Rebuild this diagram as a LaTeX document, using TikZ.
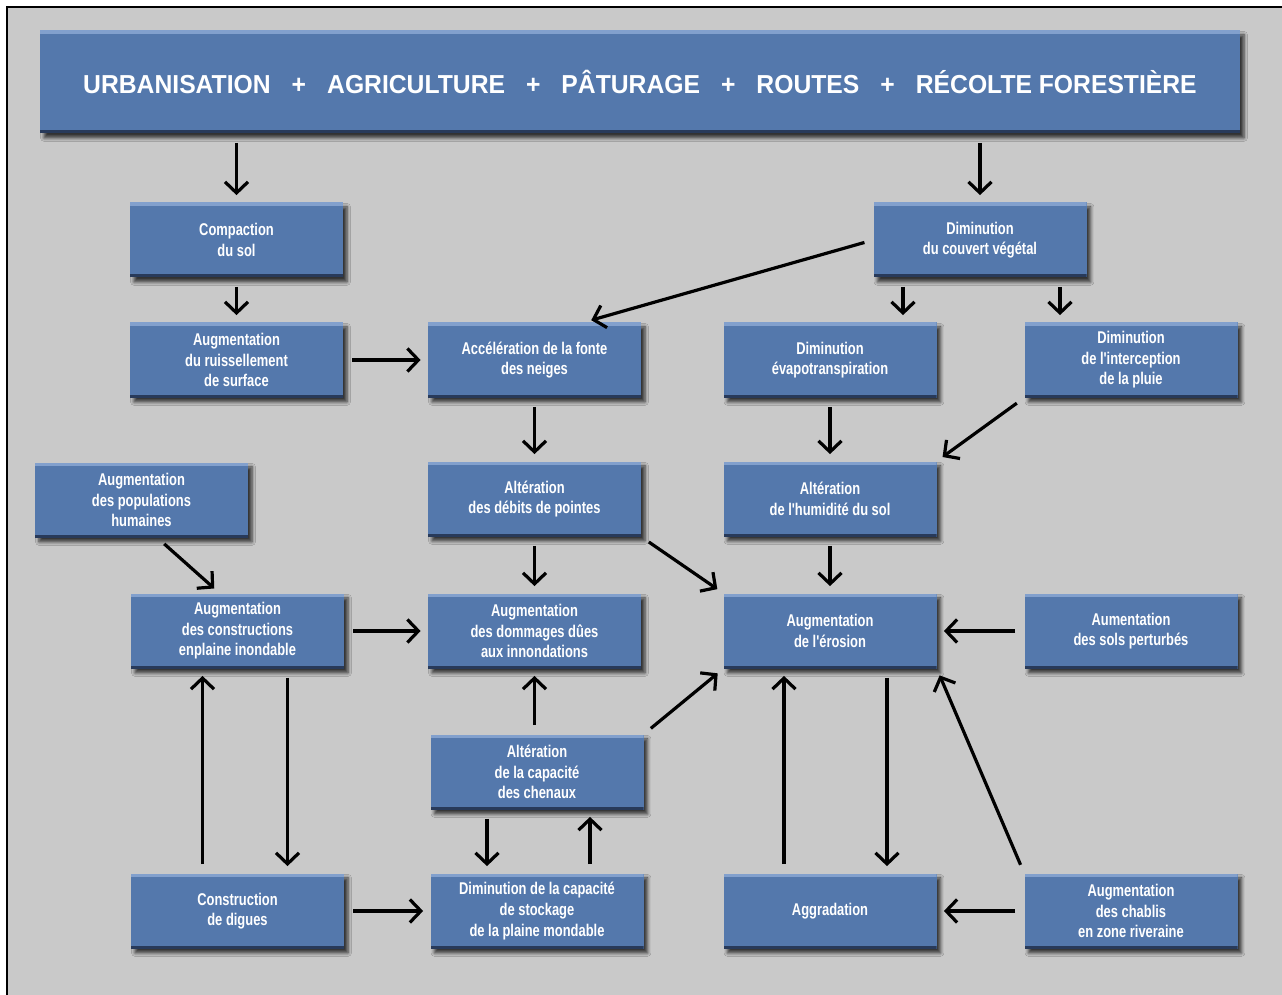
\documentclass[tikz,border=0pt]{standalone}
\usepackage{fontspec}
\usepackage{tikz}
\usetikzlibrary{arrows.meta,shadows.blur}
\newfontfamily\boxfont{Liberation Sans}[FakeStretch=0.76]
\newfontfamily\bannerfont{Liberation Sans}[FakeStretch=0.95]
\definecolor{boxblue}{RGB}{84,120,172}
\definecolor{boxlight}{RGB}{130,160,205}
\definecolor{boxdark}{RGB}{40,58,90}
\definecolor{paper}{RGB}{201,201,201}
\newcommand{\boxw}{106.5pt}
\newcommand{\boxh}{37.5pt}
\newcommand{\plus}{\hspace{10.5pt}+\hspace{10.5pt}}
\tikzset{
  bloc/.style={rectangle, fill=boxblue, text=white, align=center,
    minimum width=\boxw, minimum height=\boxh, inner sep=0pt,
    font=\boxfont\bfseries\fontsize{8.5}{10.3}\selectfont,
    blur shadow={shadow xshift=2pt, shadow yshift=-2.2pt, shadow blur steps=5, shadow opacity=75},
    path picture={
      \fill[boxlight] (path picture bounding box.north west) rectangle ([yshift=-1.8pt]path picture bounding box.north east);
      \fill[boxdark] ([yshift=1.5pt]path picture bounding box.south west) rectangle (path picture bounding box.south east);
    }},
  banniere/.style={bloc, minimum width=600pt, minimum height=51.5pt,
    font=\bannerfont\bfseries\fontsize{13}{15}\selectfont},
  flow/.style={-{Straight Barb[length=5.5pt,width=11.5pt]}, line width=1.6pt,
    shorten <=4.5pt, shorten >=3.5pt}
}

\begin{document}
\begin{tikzpicture}[x=0.5pt,y=-0.5pt]
  \useasboundingbox (0,0) rectangle (1282,995);
  \fill[white] (0,0) rectangle (1282,995);
  \fill[paper] (7,7) rectangle (1282,995);
  \draw[line width=1pt] (7,995) -- (7,7) -- (1282,7);

  \node[banniere] (banner) at (640,82) {URBANISATION\plus AGRICULTURE\plus P\^ATURAGE\plus ROUTES\plus R\'ECOLTE FORESTI\`ERE};

  \node[bloc] (compact) at (236.5,240) {Compaction\\du sol};
  \node[bloc] (couvert) at (980,240) {Diminution\\du couvert v\'eg\'etal};

  \node[bloc] (ruiss) at (236.5,360) {Augmentation\\du ruissellement\\de surface};
  \node[bloc] (fonte) at (534.5,360) {Acc\'el\'eration de la fonte\\des neiges};
  \node[bloc] (evapo) at (830,360) {Diminution\\\'evapotranspiration};
  \node[bloc] (intercep) at (1131,360) {Diminution\\de l'interception\\de la pluie};

  \node[bloc] (popul) at (141.5,500) {Augmentation\\des populations\\humaines};
  \node[bloc] (debits) at (534.5,499) {Alt\'eration\\des d\'ebits de pointes};
  \node[bloc] (humid) at (830,499) {Alt\'eration\\de l'humidit\'e du sol};

  \node[bloc] (constr) at (237.5,631) {Augmentation\\des constructions\\enplaine inondable};
  \node[bloc] (dommag) at (534.5,631) {Augmentation\\des dommages d\^ues\\aux innondations};
  \node[bloc] (erosion) at (830,631) {Augmentation\\de l'\'erosion};
  \node[bloc] (sols) at (1131,631) {Aumentation\\des sols perturb\'es};

  \node[bloc] (chenaux) at (537,772) {Alt\'eration\\de la capacit\'e\\des chenaux};

  \node[bloc] (digues) at (237.5,911) {Construction\\de digues};
  \node[bloc] (stockage) at (537,911) {Diminution de la capacit\'e\\de stockage\\de la plaine mondable};
  \node[bloc] (aggrad) at (830,911) {Aggradation};
  \node[bloc] (chablis) at (1131,911) {Augmentation\\des chablis\\en zone riveraine};

  \draw[flow] (banner.south -| compact) -- (compact.north);
  \draw[flow] (banner.south -| couvert) -- (couvert.north);
  \draw[flow] (compact.south) -- (ruiss.north);
  \draw[flow] (couvert.west) -- ([xshift=25pt]fonte.north);
  \draw[flow] ([xshift=-38.5pt]couvert.south) -- ([xshift=-38.5pt]couvert.south |- evapo.north);
  \draw[flow] ([xshift=40pt]couvert.south) -- ([xshift=40pt]couvert.south |- intercep.north);
  \draw[flow] (ruiss.east) -- (fonte.west);
  \draw[flow] (fonte.south) -- (debits.north);
  \draw[flow] (evapo.south) -- (humid.north);
  \draw[flow] (intercep.south west) -- (humid.north east);
  \draw[flow] ([xshift=8pt]popul.south) -- ([xshift=-9pt]constr.north);
  \draw[flow] (debits.south) -- (dommag.north);
  \draw[flow] (debits.south east) -- (erosion.north west);
  \draw[flow] (humid.south) -- (erosion.north);
  \draw[flow] (constr.east) -- (dommag.west);
  \draw[flow] (sols.west) -- (erosion.east);
  \draw[flow] (chenaux.north -| dommag) -- (dommag.south);
  \draw[flow] (chenaux.north east) -- (erosion.south west);
  \draw[flow] ([xshift=-17.5pt]digues.north) -- ([xshift=-17.5pt]constr.south);
  \draw[flow] ([xshift=25pt]constr.south) -- ([xshift=25pt]digues.north);
  \draw[flow] ([xshift=-25pt]chenaux.south) -- ([xshift=-25pt]stockage.north);
  \draw[flow] ([xshift=26.5pt]stockage.north) -- ([xshift=26.5pt]chenaux.south);
  \draw[flow] (digues.east) -- (stockage.west);
  \draw[flow] ([xshift=-23pt]aggrad.north) -- ([xshift=-23pt]erosion.south);
  \draw[flow] ([xshift=28.5pt]erosion.south) -- ([xshift=28.5pt]aggrad.north);
  \draw[flow] (chablis.north west) -- (erosion.south east);
  \draw[flow] (chablis.west) -- (aggrad.east);
\end{tikzpicture}
\end{document}
